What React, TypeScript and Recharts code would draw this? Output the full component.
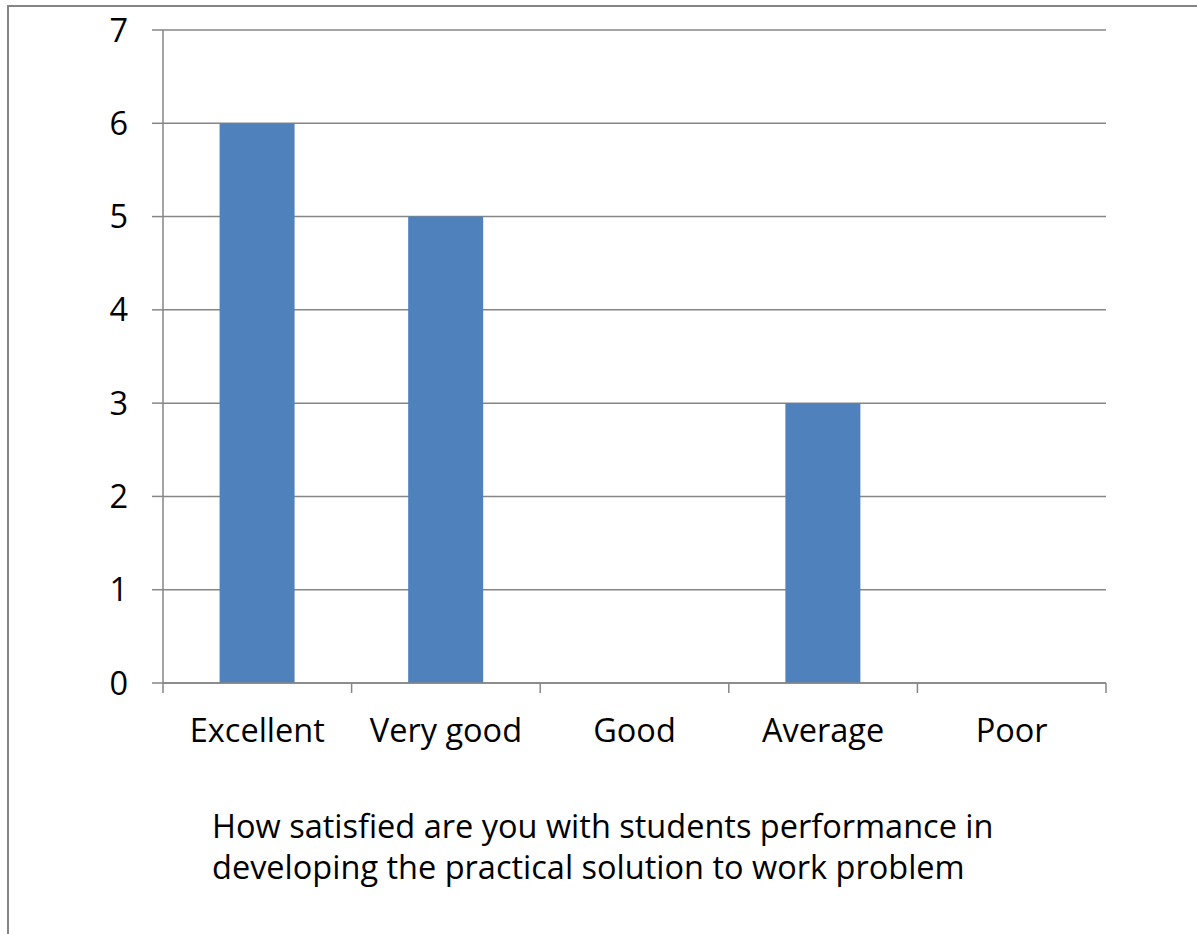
import React from "react";
import { BarChart, Bar, XAxis, YAxis, CartesianGrid } from "recharts";

const categories = ["Excellent", "Very good", "Good", "Average", "Poor"];
const counts = [6, 5, 0, 3, 0];
const yTicks = [0, 1, 2, 3, 4, 5, 6, 7];
const titleLines = [
  "How satisfied are you with students performance in",
  "developing the practical solution to work problem",
];

const FONT = "'Open Sans', 'Noto Sans', sans-serif";
const GRAY = "#868686";
const FS = 32.5;

const data = categories.map((label, i) => ({ label, value: counts[i] }));

// category label in the middle, tick marks on the band edges (Excel style)
const EdgeTick = (props: any) => {
  const { x, y, payload, index, width } = props;
  const half = payload?.offset ?? width / categories.length / 2;
  const last = index === categories.length - 1;
  return (
    <g>
      <line x1={x - half} y1={y} x2={x - half} y2={y + 10} stroke={GRAY} strokeWidth={1.5} />
      {last && <line x1={x + half} y1={y} x2={x + half} y2={y + 10} stroke={GRAY} strokeWidth={1.5} />}
      <text x={x} y={y + 59} textAnchor="middle" fill="#000" fontSize={FS} fontFamily={FONT}>
        {payload.value}
      </text>
    </g>
  );
};

export default function App() {
  return (
    <div style={{ position: "absolute", left: 0, top: 0, width: 1197, height: 934, overflow: "hidden", background: "#fff" }}>
      <div style={{ position: "absolute", left: 7, top: 5, width: 1400, height: 1200, borderLeft: "2px solid #858585", borderTop: "2px solid #858585" }} />
      <BarChart
        width={1197}
        height={934}
        data={data}
        margin={{ top: 30, right: 91, left: 0, bottom: 191 }}
        barCategoryGap="30%"
        style={{ position: "absolute", left: 0, top: 0 }}
      >
        <CartesianGrid vertical={false} stroke={GRAY} strokeWidth={1.5} />
        <XAxis
          dataKey="label"
          height={60}
          interval={0}
          tickSize={0}
          tickMargin={0}
          tickLine={false}
          axisLine={{ stroke: GRAY, strokeWidth: 1.5 }}
          tick={<EdgeTick />}
        />
        <YAxis
          width={163}
          domain={[0, 7]}
          ticks={yTicks}
          interval={0}
          tickSize={11}
          tickMargin={24}
          axisLine={{ stroke: GRAY, strokeWidth: 1.5 }}
          tickLine={{ stroke: GRAY, strokeWidth: 1.5 }}
          tick={{ fill: "#000", fontSize: FS, fontFamily: FONT }}
        />
        <Bar dataKey="value" fill="#4F81BD" isAnimationActive={false} />
      </BarChart>
      <div
        style={{
          position: "absolute",
          left: 212,
          top: 805,
          fontFamily: FONT,
          fontSize: FS,
          lineHeight: "41px",
          color: "#000",
          whiteSpace: "nowrap",
        }}
      >
        {titleLines.map((t, i) => (
          <div key={i}>{t}</div>
        ))}
      </div>
    </div>
  );
}
